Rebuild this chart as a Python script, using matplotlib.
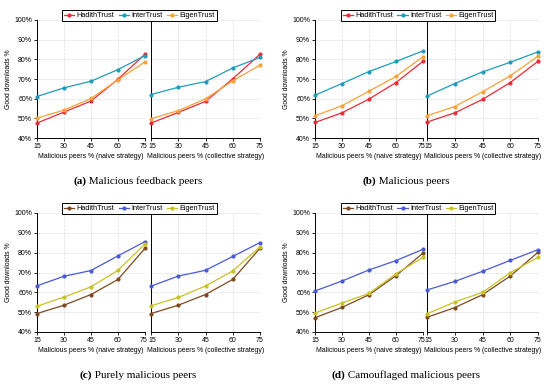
import matplotlib
matplotlib.use("Agg")
import matplotlib.pyplot as plt
import matplotlib.transforms as mtransforms
from matplotlib.ticker import FuncFormatter
from matplotlib.offsetbox import TextArea, HPacker, AnchoredOffsetbox

plt.rcParams['font.family'] = ['Liberation Sans', 'DejaVu Sans']

x_vals = [15, 30, 45, 60, 75]
y_ticks = [40, 50, 60, 70, 80, 90, 100]
series_names = ["HadithTrust", "InterTrust", "EigenTrust"]

# (a) Malicious feedback peers
a_naive_hadith = [47.6, 53.2, 58.8, 69.9, 82.6]
a_naive_inter = [61.1, 65.5, 68.9, 74.8, 81.9]
a_naive_eigen = [50.1, 54.2, 60.1, 69.6, 78.7]
a_coll_hadith = [47.6, 53.0, 58.6, 70.1, 82.6]
a_coll_inter = [62.1, 65.8, 68.7, 75.6, 81.0]
a_coll_eigen = [49.8, 53.9, 59.9, 69.1, 77.0]

# (b) Malicious peers
b_naive_hadith = [47.9, 52.8, 59.8, 68.2, 79.0]
b_naive_inter = [61.8, 67.7, 73.8, 78.9, 84.3]
b_naive_eigen = [51.3, 56.4, 63.8, 71.3, 81.4]
b_coll_hadith = [48.1, 52.8, 59.6, 68.2, 79.0]
b_coll_inter = [61.3, 67.7, 73.6, 78.5, 83.8]
b_coll_eigen = [51.3, 56.0, 63.5, 71.6, 81.6]

# (c) Purely malicious peers
c_naive_hadith = [49.3, 53.5, 58.9, 66.5, 82.2]
c_naive_inter = [63.3, 68.1, 71.0, 78.4, 85.6]
c_naive_eigen = [53.0, 57.6, 62.8, 71.1, 84.4]
c_coll_hadith = [49.3, 53.5, 58.9, 66.5, 82.2]
c_coll_inter = [63.1, 68.2, 71.1, 78.1, 85.1]
c_coll_eigen = [53.2, 57.4, 63.2, 70.8, 82.9]

# (d) Camouflaged malicious peers
d_naive_hadith = [47.2, 52.4, 58.8, 68.4, 79.8]
d_naive_inter = [60.7, 65.7, 71.3, 76.0, 81.7]
d_naive_eigen = [49.6, 54.6, 59.5, 69.4, 77.6]
d_coll_hadith = [47.4, 52.3, 58.8, 68.2, 80.2]
d_coll_inter = [61.2, 65.5, 70.6, 76.1, 81.5]
d_coll_eigen = [49.2, 55.1, 60.0, 69.9, 77.6]

captions = [("(a)", " Malicious feedback peers"),
            ("(b)", " Malicious peers"),
            ("(c)", " Purely malicious peers"),
            ("(d)", " Camouflaged malicious peers")]
xlabels = ["Malicious peers % (naive strategy)", "Malicious peers % (collective strategy)"]

colors_ab = ['#ec2b36', '#1d9dbb', '#f9a23b']
colors_cd = ['#7d4a1e', '#4a5ad6', '#c9c222']

panels = [
    ((a_naive_hadith, a_naive_inter, a_naive_eigen), (a_coll_hadith, a_coll_inter, a_coll_eigen), colors_ab),
    ((b_naive_hadith, b_naive_inter, b_naive_eigen), (b_coll_hadith, b_coll_inter, b_coll_eigen), colors_ab),
    ((c_naive_hadith, c_naive_inter, c_naive_eigen), (c_coll_hadith, c_coll_inter, c_coll_eigen), colors_cd),
    ((d_naive_hadith, d_naive_inter, d_naive_eigen), (d_coll_hadith, d_coll_inter, d_coll_eigen), colors_cd),
]

W, H = 550, 388
fig = plt.figure(figsize=(5.5, 3.88), dpi=100)

# pixel layout: (left_x0, left_x1, right_x0, right_x1, top_y, bottom_y, legend_cx, caption_cx)
layouts = [
    (37, 145, 151, 260, 20, 138, 139.5, 138),
    (315, 423, 427, 538, 20, 138, 418, 406),
    (37, 145, 151, 260, 213, 332, 139.5, 138),
    (315, 423, 427, 538, 213, 332, 418, 406),
]

fs = 4.95
tick_fs = 5.0
leg_fs = 5.3
cap_fs = 8.0
for p, (naive, coll, cols) in enumerate(panels):
    lx0, lx1, rx0, rx1, ty, by, lcx, ccx = layouts[p]
    axes = []
    for k, (x0, x1, data) in enumerate([(lx0, lx1, naive), (rx0, rx1, coll)]):
        ax = fig.add_axes([x0 / W, 1 - by / H, (x1 - x0) / W, (by - ty) / H])
        for s, (vals, name) in enumerate(zip(data, series_names)):
            ax.plot(x_vals, vals, color=cols[s], lw=0.9, marker='o', ms=2.0,
                    label=name, clip_on=False, zorder=3)
        ax.set_xlim(15, 75)
        ax.set_ylim(40, 100)
        ax.set_xticks(x_vals)
        ax.set_yticks(y_ticks)
        ax.yaxis.set_major_formatter(FuncFormatter(lambda v, pos: f"{int(v)}%"))
        ax.grid(True, color='#d0d0d0', lw=0.5, ls=(0, (1, 1)))
        ax.set_axisbelow(True)
        for sp in ['top', 'right']:
            ax.spines[sp].set_visible(False)
        for sp in ['left', 'bottom']:
            ax.spines[sp].set_linewidth(0.7)
        ax.tick_params(labelsize=tick_fs, length=2, width=0.6, pad=1.5, direction='out')
        ax.set_xlabel(xlabels[k], fontsize=fs, labelpad=2.5)
        if k == 0:
            ax.set_ylabel("Good downloads %", fontsize=fs, labelpad=1.5)
        else:
            ax.tick_params(axis='y', labelleft=False, length=0)
        # nudge the touching "75" / "15" labels apart slightly
        labs = ax.get_xticklabels()
        if k == 0:
            lab = labs[-1]
            lab.set_transform(lab.get_transform() + mtransforms.ScaledTranslation(-1.3 / 100, 0, fig.dpi_scale_trans))
        else:
            lab = labs[0]
            lab.set_transform(lab.get_transform() + mtransforms.ScaledTranslation(1.3 / 100, 0, fig.dpi_scale_trans))
        axes.append(ax)
    handles, labels = axes[0].get_legend_handles_labels()
    cy = 1 - (ty - 4.5) / H
    leg = fig.legend(handles, labels, loc='center', bbox_to_anchor=(lcx / W, cy), ncol=3,
                     fontsize=leg_fs, frameon=True, fancybox=False, edgecolor='black',
                     handlelength=1.4, handletextpad=0.3, columnspacing=0.6,
                     borderpad=0.25, borderaxespad=0, framealpha=1)
    leg.get_frame().set_linewidth(0.7)
    # caption: bold label + regular text
    capy = 1 - (by + 43.5) / H
    t1, t2 = captions[p]
    ta1 = TextArea(t1, textprops=dict(fontsize=cap_fs, family=['Liberation Serif'], weight='bold'))
    ta2 = TextArea(t2, textprops=dict(fontsize=cap_fs, family=['Liberation Serif']))
    box = HPacker(children=[ta1, ta2], align='baseline', pad=0, sep=0)
    ab = AnchoredOffsetbox(loc='center', child=box, frameon=False,
                           bbox_to_anchor=(ccx / W, capy), bbox_transform=fig.transFigure,
                           borderpad=0, pad=0)
    fig.add_artist(ab)

fig.savefig("out.png", dpi=100)
